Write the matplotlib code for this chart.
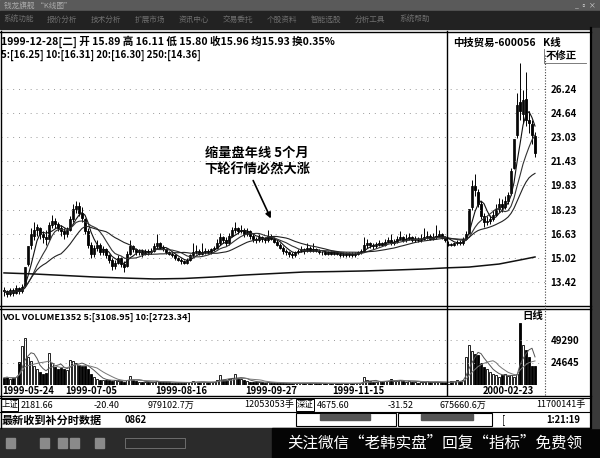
import matplotlib
matplotlib.use('Agg')
import matplotlib.pyplot as plt
from matplotlib.patches import Rectangle
import numpy as np
import pandas as pd

plt.rcParams['font.family'] = ['Noto Sans CJK SC', 'DejaVu Sans']

# ---- 日K线数据 (1999-05 ~ 2000-03, 中技贸易 600056) ----
opens = [12.9, 12.8, 12.6, 12.9, 12.7, 13.0, 12.8, 13.2, 14.6, 15.9,
         16.5, 16.9, 17.0, 16.6, 16.4, 16.3, 17.2, 17.5, 17.3, 17.0,
         16.8, 16.6, 16.9, 17.6, 18.3, 18.5, 18.0, 17.6, 16.8, 15.9,
         15.3, 15.7, 15.9, 15.4, 15.6, 15.2, 14.9, 14.5, 14.7, 15.0,
         14.6, 14.5, 15.3, 15.8, 15.6, 15.4, 15.5, 15.3, 15.5, 15.4,
         15.5, 15.8, 16.0, 15.7, 15.6, 15.4, 15.3, 15.2, 15.0, 14.9,
         14.8, 14.7, 14.9, 15.2, 15.4, 15.5, 15.3, 15.4, 15.5, 15.4,
         15.6, 15.7, 16.0, 16.4, 16.2, 16.0, 16.5, 16.9, 17.0, 16.8,
         16.9, 16.6, 16.8, 16.5, 16.3, 16.2, 16.4, 16.3, 16.2, 16.5,
         16.3, 16.1, 15.9, 15.7, 15.5, 15.4, 15.3, 15.2, 15.4, 15.5,
         15.6, 15.5, 15.7, 15.5, 15.6, 15.5, 15.4, 15.4, 15.3, 15.4,
         15.3, 15.4, 15.3, 15.2, 15.3, 15.2, 15.3, 15.2, 15.3, 15.4,
         15.5, 15.9, 16.0, 15.9, 15.8, 15.9, 16.0, 15.9, 16.1, 16.2,
         16.0, 16.1, 16.3, 16.4, 16.2, 16.3, 16.4, 16.2, 16.3, 16.2,
         16.3, 16.4, 16.5, 16.3, 16.4, 16.5, 16.6, 16.4, 15.89, 15.96,
         15.9, 16.0, 16.1, 16.0, 16.3, 16.7, 18.4, 19.8, 19.4, 18.6,
         17.8, 17.4, 17.5, 17.6, 17.9, 18.3, 18.6, 18.4, 18.8, 19.3,
         21.0, 23.2, 25.4, 24.6, 25.6, 24.2, 23.9, 23.1]
highs = [13.1, 12.9, 13.0, 13.0, 13.2, 13.1, 13.3, 14.4, 15.8, 17.0,
         17.4, 17.3, 17.1, 16.8, 16.9, 17.4, 17.9, 17.7, 17.4, 17.2,
         17.0, 17.1, 17.8, 18.6, 18.8, 18.7, 18.4, 17.7, 17.0, 16.1,
         15.9, 16.2, 16.0, 15.8, 15.7, 15.3, 15.0, 14.9, 15.2, 15.1,
         14.8, 15.5, 16.2, 15.9, 15.7, 15.6, 15.6, 15.6, 15.6, 15.7,
         16.0, 16.6, 16.1, 15.9, 15.7, 15.5, 15.4, 15.3, 15.1, 15.0,
         14.9, 15.0, 15.3, 16.0, 15.9, 15.6, 16.0, 15.7, 15.6, 15.7,
         15.8, 16.3, 16.7, 16.5, 16.4, 16.7, 17.1, 17.4, 17.1, 17.2,
         17.0, 17.0, 16.9, 16.6, 16.4, 16.6, 16.5, 16.4, 16.9, 16.6,
         16.4, 16.2, 16.0, 15.8, 15.6, 15.5, 15.4, 15.5, 15.6, 15.8,
         15.7, 16.0, 15.8, 16.0, 15.7, 15.6, 15.5, 15.5, 15.5, 15.5,
         15.5, 15.5, 15.4, 15.4, 15.4, 15.4, 15.4, 15.4, 15.5, 15.6,
         16.4, 16.3, 16.1, 16.0, 16.1, 16.2, 16.1, 16.3, 16.4, 16.6,
         16.3, 16.5, 16.8, 16.5, 16.6, 16.7, 16.5, 16.5, 16.4, 16.6,
         17.0, 16.8, 16.6, 16.7, 17.2, 16.9, 16.7, 16.5, 16.11, 16.0,
         16.1, 16.2, 16.2, 16.4, 16.8, 18.3, 20.2, 20.6, 19.6, 18.8,
         18.0, 17.8, 17.9, 18.2, 18.6, 19.0, 18.9, 19.1, 19.4, 21.0,
         22.9, 26.0, 28.0, 26.2, 27.4, 24.8, 24.2, 23.4]
lows = [12.5, 12.4, 12.5, 12.5, 12.6, 12.6, 12.7, 13.1, 14.5, 15.6,
        16.2, 16.5, 16.3, 16.0, 15.9, 16.2, 17.0, 17.0, 16.8, 16.5,
        16.3, 16.4, 16.8, 17.4, 18.0, 17.8, 17.4, 16.6, 15.7, 15.0,
        15.1, 15.5, 15.2, 15.2, 15.0, 14.7, 14.2, 14.3, 14.6, 14.4,
        14.1, 14.4, 15.2, 15.4, 15.2, 15.2, 15.1, 15.2, 15.2, 15.3,
        15.4, 15.7, 15.6, 15.5, 15.3, 15.2, 15.1, 14.9, 14.8, 14.6,
        14.6, 14.6, 14.8, 15.1, 15.3, 15.2, 15.2, 15.3, 15.3, 15.3,
        15.5, 15.6, 15.9, 16.0, 15.8, 15.9, 16.4, 16.7, 16.6, 16.7,
        16.4, 16.5, 16.3, 16.1, 16.0, 16.1, 16.1, 16.0, 16.1, 16.2,
        16.0, 15.8, 15.6, 15.3, 15.2, 15.1, 15.0, 15.1, 15.3, 15.4,
        15.3, 15.4, 15.4, 15.4, 15.4, 15.3, 15.2, 15.2, 15.2, 15.2,
        15.2, 15.2, 15.1, 15.1, 15.1, 15.1, 15.1, 15.1, 15.2, 15.3,
        15.4, 15.7, 15.7, 15.6, 15.7, 15.8, 15.8, 15.8, 16.0, 15.9,
        15.9, 16.0, 16.2, 16.1, 16.1, 16.2, 16.1, 16.1, 16.1, 16.1,
        16.2, 16.3, 16.2, 16.2, 16.3, 16.4, 16.3, 16.1, 15.80, 15.8,
        15.8, 15.9, 15.9, 15.9, 16.2, 16.6, 18.2, 19.1, 18.4, 17.6,
        17.1, 17.2, 17.3, 17.5, 17.8, 18.1, 18.1, 18.3, 18.6, 19.2,
        20.9, 23.0, 24.2, 24.0, 23.8, 23.3, 22.6, 21.7]
closes = [12.8, 12.6, 12.9, 12.7, 13.0, 12.8, 13.1, 14.4, 15.8, 16.6,
          16.9, 17.1, 16.6, 16.4, 16.3, 17.2, 17.5, 17.3, 17.0, 16.8,
          16.6, 16.9, 17.6, 18.3, 18.5, 18.0, 17.7, 16.8, 15.9, 15.3,
          15.7, 15.9, 15.4, 15.6, 15.2, 14.9, 14.5, 14.7, 15.0, 14.6,
          14.4, 15.3, 15.8, 15.6, 15.4, 15.5, 15.3, 15.5, 15.4, 15.5,
          15.8, 16.0, 15.7, 15.6, 15.4, 15.3, 15.2, 15.0, 14.9, 14.8,
          14.7, 14.9, 15.2, 15.4, 15.5, 15.3, 15.4, 15.5, 15.4, 15.6,
          15.7, 16.0, 16.4, 16.2, 16.0, 16.5, 16.9, 17.0, 16.8, 16.9,
          16.6, 16.8, 16.5, 16.3, 16.2, 16.4, 16.3, 16.2, 16.5, 16.3,
          16.1, 15.9, 15.7, 15.5, 15.4, 15.3, 15.2, 15.4, 15.5, 15.6,
          15.5, 15.7, 15.5, 15.6, 15.5, 15.4, 15.4, 15.3, 15.4, 15.3,
          15.4, 15.3, 15.2, 15.3, 15.2, 15.3, 15.2, 15.3, 15.4, 15.5,
          15.9, 16.0, 15.9, 15.8, 15.9, 16.0, 15.9, 16.1, 16.2, 16.0,
          16.1, 16.3, 16.4, 16.2, 16.3, 16.4, 16.2, 16.3, 16.2, 16.3,
          16.4, 16.5, 16.3, 16.4, 16.5, 16.6, 16.4, 16.2, 15.96, 15.9,
          16.0, 16.1, 16.0, 16.3, 16.6, 18.3, 19.8, 19.5, 18.6, 17.8,
          17.4, 17.5, 17.6, 17.9, 18.3, 18.6, 18.4, 18.8, 19.2, 20.8,
          22.9, 25.2, 24.8, 25.5, 24.2, 24.0, 23.2, 22.0]
volumes = [8000, 9000, 7000, 7500, 8500, 25600, 42500, 51600, 30700, 26000,
           20600, 17000, 14000, 12500, 13500, 34800, 24000, 20000, 17000, 19000,
           18000, 16000, 27000, 26000, 24000, 22000, 21000, 20600, 18000, 12000,
           9000, 6500, 5500, 5000, 5400, 5200, 4800, 5000, 4400, 4200,
           3800, 6000, 10000, 5000, 4200, 3800, 3500, 3600, 3200, 3000,
           3500, 4800, 3600, 3200, 3000, 2800, 2600, 2700, 2500, 2600,
           2400, 2800, 3400, 4200, 3600, 3000, 3400, 3000, 2800, 3000,
           3400, 5200, 11000, 6000, 5000, 6500, 7500, 12000, 8000, 6500,
           5000, 4200, 3800, 3400, 3000, 3200, 2800, 2600, 3000, 2600,
           2400, 2200, 2000, 2100, 1900, 1800, 2000, 2300, 2100, 2200,
           2000, 2600, 2200, 2400, 2000, 1900, 1800, 1700, 1900, 1800,
           2000, 1800, 1700, 1900, 1800, 1700, 1900, 1800, 2000, 2400,
           8800, 5000, 4000, 3600, 3800, 4000, 3400, 4200, 4600, 7000,
           4400, 4800, 5200, 4000, 3800, 4200, 3600, 3800, 2600, 2800,
           3600, 4200, 3000, 2800, 3800, 3400, 2900, 3100, 1352, 4000,
           4500, 5000, 4600, 5200, 30700, 44200, 37500, 34000, 32400, 24000,
           20000, 17000, 13800, 12000, 11000, 9000, 10500, 12500, 9500, 11000,
           9000, 12000, 68000, 44000, 38000, 30700, 20600, 20600]

# 250日均线 (读图取点)
ma250_idx = [0, 10, 20, 30, 40, 50, 60, 70, 80, 90, 100, 110, 120, 130, 140, 148, 155, 165, 172, 177]
ma250_val = [14.02, 13.95, 13.85, 13.75, 13.68, 13.62, 13.65, 13.75, 13.88, 13.98,
             14.08, 14.11, 14.15, 14.21, 14.28, 14.36, 14.41, 14.61, 14.88, 15.08]

price_ticks = [26.24, 24.64, 23.03, 21.43, 19.83, 18.23, 16.63, 15.02, 13.42]
vol_ticks = [49290, 24645]
date_idx = [0, 21, 51, 81, 110, 160]
date_labels = ['1999-05-24', '1999-07-05', '1999-08-16', '1999-09-27', '1999-11-15', '2000-02-23']

o = np.array(opens); h = np.array(highs); l = np.array(lows); c = np.array(closes)
v = np.array(volumes)
idx = np.arange(len(c))

W, H = 600, 458
fig = plt.figure(figsize=(6, 4.58), dpi=100)


def px_axes(x0, y0, x1, y1):
    return fig.add_axes([x0 / W, 1 - y1 / H, (x1 - x0) / W, (y1 - y0) / H])


# 背景 / 窗口框架
bg = px_axes(0, 0, W, H)
bg.set_xlim(0, W); bg.set_ylim(H, 0); bg.axis('off')
bg.add_patch(Rectangle((0, 0), W, H, color='white'))
bg.add_patch(Rectangle((0, 0), W, 11, color='#5a5a5a'))
bg.add_patch(Rectangle((0, 11), W, 18, color='#222222'))
bg.add_patch(Rectangle((0, 428), W, 30, color='#2b2b2b'))
bg.add_patch(Rectangle((272, 428), 328, 30, color='#050505'))
bg.add_patch(Rectangle((591, 28), 9, 400, color='#3a3a3a'))

# ---- 主图 K线 ----
ax = px_axes(1, 32, 545, 307)
ax.set_facecolor('none')
ax.set_xlim(-1, 180.33)
ax.set_ylim(11.755, 30.03)
up = c >= o
ax.vlines(idx, l, h, color='black', lw=0.7)
body = np.maximum(np.abs(c - o), 0.04)
ax.bar(idx, body, bottom=np.minimum(o, c), width=0.72,
       color=np.where(up, 'white', 'black'), edgecolor='black', lw=0.6)
for n, col in [(5, '#111111'), (10, '#333333'), (20, '#222222')]:
    ax.plot(idx, pd.Series(c).rolling(n, min_periods=1).mean(), color=col, lw=0.8)
ax.plot(ma250_idx, ma250_val, color='#111111', lw=1.1)
ax.yaxis.tick_right()
ax.set_yticks(price_ticks)
ax.set_yticklabels(['%.2f' % t for t in price_ticks])
ax.set_xticks([])
ax.tick_params(axis='y', length=0, pad=4, labelsize=7)
for t in ax.get_yticklabels():
    t.set_fontweight('bold')
ax.grid(axis='y', ls=(0, (1, 5)), color='#9a9a9a', lw=0.7)
for s in ax.spines.values():
    s.set_visible(False)

# ---- 成交量 ----
vx = px_axes(1, 310, 545, 385)
vx.set_facecolor('none')
vx.set_xlim(-1, 180.33)
vx.set_ylim(0, 82150)
vx.bar(idx, v, width=0.65, color=np.where(up, 'white', 'black'), edgecolor='black', lw=0.6)
vx.plot(idx, pd.Series(v).rolling(5, min_periods=1).mean(), color='#555555', lw=0.7)
vx.plot(idx, pd.Series(v).rolling(10, min_periods=1).mean(), color='#777777', lw=0.7)
vx.yaxis.tick_right()
vx.set_yticks(vol_ticks)
vx.set_yticklabels([str(t) for t in vol_ticks])
vx.set_xticks([])
vx.tick_params(axis='y', length=0, pad=4, labelsize=7)
for t in vx.get_yticklabels():
    t.set_fontweight('bold')
vx.grid(axis='y', ls=(0, (1, 5)), color='#9a9a9a', lw=0.7)
for s in vx.spines.values():
    s.set_visible(False)
for i, lab in zip(date_idx, date_labels):
    vx.text(i - 0.5, -0.08, lab, transform=vx.get_xaxis_transform(), ha='left', va='center',
            fontsize=6.8, fontweight='bold')

# ---- 覆盖层: 线框与文字 ----
top = px_axes(0, 0, W, H)
top.set_facecolor('none')
top.set_xlim(0, W); top.set_ylim(H, 0); top.axis('off')
k = dict(color='black', lw=1)
top.plot([0, 591], [31.5, 31.5], **k)
top.plot([0, 591], [306, 306], **k)
top.plot([0, 591], [308.5, 308.5], **k)
top.plot([0, 591], [395.5, 395.5], **k)
top.plot([0.5, 0.5], [31, 428], **k)
top.plot([447, 447], [31, 395], **k)
top.plot([545, 545], [55, 395], color='#444444', lw=0.8, ls=(0, (1, 1.5)))
top.plot([590.5, 590.5], [28, 428], color='black', lw=1.6)

# 标题栏 / 菜单栏
top.text(4, 5.5, '钱龙旗舰 “K线图”', color='#aaaaaa', fontsize=5.5, va='center')
menus = ['系统功能', '报价分析', '技术分析', '扩展市场', '资讯中心', '交易委托', '个股资料', '智能选股', '分析工具', '系统帮助']
for j, m in enumerate(menus):
    top.text(3 + j * 44, 20, m, color='#6f6f6f', fontsize=5.5, va='center')
top.text(596, 5.5, '_ ▫ ×', color='#dddddd', fontsize=5, va='center', ha='right')

# 主图信息栏
top.text(1, 42, '1999-12-28[二] 开 15.89 高 16.11 低 15.80 收15.96 均15.93 换0.35%',
         fontsize=7.6, fontweight='bold', va='center')
top.text(1, 55, '5:[16.25] 10:[16.31] 20:[16.30] 250:[14.36]',
         fontsize=7, fontweight='bold', va='center')
top.text(453, 43, '中技贸易-600056', fontsize=7.5, fontweight='bold', va='center')
top.text(543, 43, 'K线', fontsize=7.5, fontweight='bold', va='center')
top.text(546, 56, '不修正', fontsize=7.5, fontweight='bold', va='center')
top.plot([544, 544, 586], [49, 63, 63], color='#666666', lw=0.6)

# 注释
top.text(257, 153, '缩量盘年线 5个月', fontsize=9.5, fontweight='bold', ha='center', va='center')
top.text(257, 170, '下轮行情必然大涨', fontsize=9.5, fontweight='bold', ha='center', va='center')
top.annotate('', xy=(272, 221), xytext=(252, 178),
             arrowprops=dict(arrowstyle='-|>', color='black', lw=1.2, mutation_scale=8))

# 成交量标题
top.text(2, 317, 'VOL VOLUME1352 5:[3108.95] 10:[2723.34]', fontsize=6.5, fontweight='bold', va='center')
top.text(522, 316, '日线', fontsize=7.5, fontweight='bold', va='center')

# 状态栏
top.plot([0, 591], [398, 398], color='black', lw=0.8)
top.plot([0, 591], [411.5, 411.5], color='black', lw=0.8)
top.add_patch(Rectangle((1, 399), 17, 12, fill=False, ec='black', lw=0.7))
top.add_patch(Rectangle((296, 399), 18, 12, fill=False, ec='black', lw=0.7))
row1 = [(2, '上证'), (21, '2181.66'), (94, '-20.40'), (148, '979102.7万'), (244, '12053053手'),
        (297, '深证'), (317, '4675.60'), (388, '-31.52'), (440, '675660.6万'), (536, '11700141手')]
for x, s in row1:
    top.text(x, 405, s, fontsize=6 if s in ('上证', '深证') else 6.5, va='center')
top.text(2, 420, '最新收到补分时数据', fontsize=8, fontweight='bold', va='center')
top.text(125, 420, '0862', fontsize=6.8, fontweight='bold', va='center')
top.add_patch(Rectangle((296, 413), 100, 13, fill=False, ec='black', lw=0.8))
top.add_patch(Rectangle((320, 414), 50, 6, color='#555555'))
top.add_patch(Rectangle((398, 413), 94, 13, fill=False, ec='black', lw=0.8))
top.add_patch(Rectangle((421, 414), 52, 6, color='#555555'))
top.text(502, 420, '[', fontsize=7, va='center')
top.text(546, 420, '1:21:19', fontsize=6.8, fontweight='bold', va='center')

# 任务栏与水印
for x0 in [6, 40, 58, 70, 95]:
    top.add_patch(Rectangle((x0, 438), 9, 10, color='#8a8a8a'))
top.add_patch(Rectangle((125, 438), 60, 10, fill=False, ec='#777777', lw=0.6))
top.text(435, 443, '关注微信“老韩实盘”回复“指标”免费领', color='white', fontsize=11.2,
         ha='center', va='center')

fig.savefig('out.png', dpi=100)
